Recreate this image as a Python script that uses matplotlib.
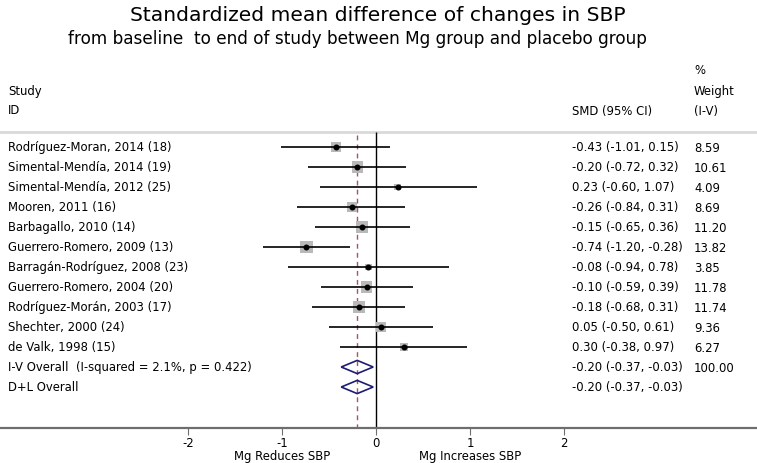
import numpy as np
import matplotlib
matplotlib.use('Agg')
import matplotlib.pyplot as plt
from matplotlib.patches import Polygon

# study data
studies = ['Rodríguez-Moran, 2014 (18)', 'Simental-Mendía, 2014 (19)',
           'Simental-Mendía, 2012 (25)', 'Mooren, 2011 (16)',
           'Barbagallo, 2010 (14)', 'Guerrero-Romero, 2009 (13)',
           'Barragán-Rodríguez, 2008 (23)', 'Guerrero-Romero, 2004 (20)',
           'Rodríguez-Morán, 2003 (17)', 'Shechter, 2000 (24)', 'de Valk, 1998 (15)']
smd = [-0.43, -0.20, 0.23, -0.26, -0.15, -0.74, -0.08, -0.10, -0.18, 0.05, 0.30]
lo = [-1.01, -0.72, -0.60, -0.84, -0.65, -1.20, -0.94, -0.59, -0.68, -0.50, -0.38]
hi = [0.15, 0.32, 1.07, 0.31, 0.36, -0.28, 0.78, 0.39, 0.31, 0.61, 0.97]
weight = [8.59, 10.61, 4.09, 8.69, 11.20, 13.82, 3.85, 11.78, 11.74, 9.36, 6.27]

pooled_labels = ['I-V Overall  (I-squared = 2.1%, p = 0.422)', 'D+L Overall']
pooled_smd = [-0.20, -0.20]
pooled_lo = [-0.37, -0.37]
pooled_hi = [-0.03, -0.03]
pooled_weight = ['100.00', '']

xticks = [-2, -1, 0, 1, 2]

fs = 8.4
fig = plt.figure(figsize=(7.57, 4.64), dpi=100)
ax = fig.add_axes([0, 0, 1, 1])
ax.set_xlim(-4.0, 4.053)
ax.set_ylim(15.8, -7.4)

# axis: only the bottom spine, moved up to sit under the rows
for s in ['top', 'left', 'right']:
    ax.spines[s].set_visible(False)
ax.spines['bottom'].set_position(('data', 14.05))
ax.spines['bottom'].set_color('#6e6e6e')
ax.spines['bottom'].set_linewidth(1.6)
ax.set_yticks([])
ax.set_xticks(xticks)
ax.set_xticklabels([str(t) for t in xticks])
ax.tick_params(axis='x', length=5, width=0.8, color='#6e6e6e', labelsize=fs, pad=1)

n = len(studies)
rows = np.arange(n)
prow = np.arange(n, n + len(pooled_labels))

# header / separator
ax.axhline(-0.75, color='#d9d9d9', lw=2)
ax.vlines(0, -0.75, 14.05, color='black', lw=1)
ax.vlines(pooled_smd[0], -0.6, 14.05, color='#a8555f', lw=1, linestyles=(0, (3.5, 3)))

ax.scatter(smd, rows, s=np.array(weight) * 6, marker='s', color='#b9b9b9', zorder=2, lw=0)
ax.hlines(rows, lo, hi, color='black', lw=1.2, zorder=3)
ax.scatter(smd, rows, s=11, marker='o', color='black', zorder=4)

for r, e, l, h in zip(prow, pooled_smd, pooled_lo, pooled_hi):
    ax.add_patch(Polygon([[l, r], [e, r - 0.33], [h, r], [e, r + 0.33]], closed=True,
                         fill=False, edgecolor='#1c1c74', lw=1.2, zorder=4))

xl, xs, xw = -3.915, 2.085, 3.383
for r, name, e, l, h, w in zip(rows, studies, smd, lo, hi, weight):
    ax.text(xl, r, name, fontsize=fs, va='center')
    ax.text(xs, r, '%.2f (%.2f, %.2f)' % (e, l, h), fontsize=fs, va='center')
    ax.text(xw, r, '%.2f' % w, fontsize=fs, va='center')
for r, name, e, l, h, w in zip(prow, pooled_labels, pooled_smd, pooled_lo, pooled_hi, pooled_weight):
    ax.text(xl, r, name, fontsize=fs, va='center')
    ax.text(xs, r, '%.2f (%.2f, %.2f)' % (e, l, h), fontsize=fs, va='center')
    ax.text(xw, r, w, fontsize=fs, va='center')

ax.text(xl, -2.85, 'Study', fontsize=fs, va='center')
ax.text(xl, -1.85, 'ID', fontsize=fs, va='center')
ax.text(xs, -1.85, 'SMD (95% CI)', fontsize=fs, va='center')
ax.text(xw, -3.85, '%', fontsize=fs, va='center')
ax.text(xw, -2.85, 'Weight', fontsize=fs, va='center')
ax.text(xw, -1.85, '(I-V)', fontsize=fs, va='center')

ax.text(-1, 15.45, 'Mg Reduces SBP', fontsize=fs, va='center', ha='center')
ax.text(1, 15.45, 'Mg Increases SBP', fontsize=fs, va='center', ha='center')

ax.text(0.02, -6.65, 'Standardized mean difference of changes in SBP', fontsize=14.6,
        ha='center', va='center')
ax.text(-0.2, -5.45, 'from baseline  to end of study between Mg group and placebo group',
        fontsize=12.2, ha='center', va='center')

fig.savefig('out.png', dpi=100)
